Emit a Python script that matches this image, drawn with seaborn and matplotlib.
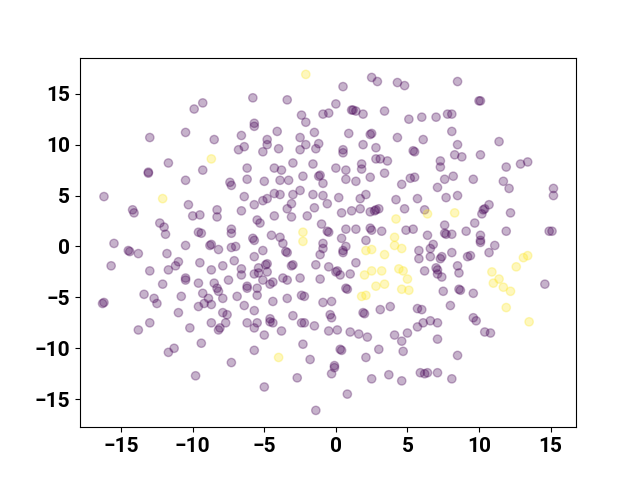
import matplotlib
matplotlib.use("Agg")
import matplotlib.pyplot as plt
import seaborn as sns
import pandas as pd

# cluster 0 (purple) points
purple = [
    (-9.3,14.1),(-9.9,13.5),(-10.5,11.2),(-13.0,10.7),(-11.7,8.2),(-13.1,7.3),(-13.1,7.2),(-9.3,7.5),(-10.5,6.5),
    (-5.8,14.6),(-3.4,14.4),(-2.4,12.9),(-0.9,13.0),(-0.5,13.1),(-2.1,12.2),(-5.7,12.1),(-5.7,11.8),(-4.1,11.3),
    (-1.5,11.2),(-6.6,10.9),(-4.8,10.5),(-2.5,10.7),(-8.5,10.5),(-4.8,10.0),(-6.4,9.8),(-6.8,9.5),(-4.0,9.6),
    (-2.1,10.0),(-1.2,10.1),(-1.4,9.6),(-2.5,9.5),(-5.1,9.3),(-3.0,8.2),(-1.6,8.1),(-6.2,7.7),(-4.3,7.7),(-3.8,7.5),
    (-1.1,7.0),(-1.2,6.9),(-2.3,6.9),(-6.2,6.6),(-5.0,6.4),(-3.9,6.5),(-3.3,6.5),(-7.4,6.3),
    (2.5,16.6),(2.9,16.2),(0.5,15.7),(4.3,16.1),(4.8,15.8),(0.0,14.0),(1.1,13.4),(1.2,13.4),(1.4,13.3),(1.9,13.0),
    (3.4,13.3),(5.1,12.5),(6.0,12.7),(7.0,12.7),(7.8,13.0),(8.1,13.0),(0.9,11.1),(2.5,11.1),(2.4,11.0),(4.3,10.7),
    (6.1,10.5),(8.1,11.3),(1.9,10.0),(2.8,9.7),(0.5,9.5),(0.5,9.2),(5.5,9.3),(5.4,9.4),(2.8,8.6),(3.1,8.6),(3.6,8.4),
    (7.3,8.4),(7.3,7.8),(0.0,7.7),(0.7,7.5),(1.8,8.1),(1.8,7.6),(2.4,6.8),(3.4,7.2),(7.6,6.6),(4.6,6.1),(5.2,6.7),
    (5.5,6.8),(0.7,6.6),(1.4,6.4),(8.2,6.9),(7.1,5.8),
    (8.5,16.2),(10.1,14.3),(10.0,14.3),(8.5,10.0),(11.4,10.3),(8.3,9.0),(8.8,8.8),(10.1,9.0),(11.9,7.8),(12.9,8.1),
    (13.4,8.3),(9.6,6.6),(11.7,6.4),
    (-16.2,4.9),(-10.3,4.1),(-14.2,3.6),(-14.1,3.3),(-10.0,3.0),(-9.5,3.1),(-12.3,2.3),(-12.0,1.9),(-11.9,1.2),
    (-9.6,1.4),(-9.4,1.3),(-15.5,0.3),(-10.5,0.1),(-14.4,-0.5),(-14.5,-0.4),(-13.8,-0.7),(-11.8,-0.7),(-9.5,-1.6),
    (-15.7,-1.9),(-11.0,-1.5),(-11.2,-1.9),(-13.0,-2.4),(-11.7,-2.3),(-10.5,-3.1),(-10.5,-3.3),(-9.6,-3.6),
    (-12.1,-3.7),(-9.3,-4.6),(-13.4,-4.7),(-12.7,-5.1),(-10.8,-4.9),(-16.2,-5.5),(-16.3,-5.6),(-12.5,-5.6),
    (-9.6,-5.9),(-9.2,-5.6),
    (-7.3,6.0),(-0.9,6.2),(-6.4,4.9),(-5.7,4.1),(-5.1,4.5),(-4.8,4.7),(-4.3,5.2),(-3.9,5.1),(-3.0,5.1),(-2.5,5.5),
    (-3.1,4.2),(-3.4,3.7),(-1.6,5.1),(-0.9,5.0),(-0.6,4.2),(-1.5,3.8),(-8.3,3.6),(-8.3,2.9),(-6.6,3.5),(-4.3,3.0),
    (-3.1,2.9),(-2.0,3.0),(-5.5,2.6),(-5.3,2.3),(-1.0,2.2),(-7.3,1.7),(-7.3,1.3),(-5.8,0.8),(-5.7,0.6),(-4.5,1.1),
    (-3.9,0.9),(-3.7,0.3),(-0.6,1.5),(-0.5,1.4),(-0.9,0.3),(-8.7,0.2),(-8.8,0.1),(-8.2,-0.3),(-7.3,-0.1),(-7.0,0.0),
    (-5.1,-0.4),(-3.5,-0.5),(-3.4,-0.6),(-0.9,-0.2),(-1.1,-0.8),(-5.7,-1.0),(-7.1,-1.4),(-4.9,-1.8),(-4.8,-1.7),
    (-3.1,-1.9),(-3.0,-1.8),(-1.4,-1.8),(-0.5,-2.0),(-8.7,-2.3),(-7.9,-1.9),(-6.6,-2.2),(-6.6,-2.8),(-5.4,-2.1),
    (-5.4,-2.6),(-5.7,-2.7),(-4.8,-2.5),(-7.5,-3.3),(-5.1,-3.3),(-4.4,-3.5),(-4.6,-3.7),(-3.7,-3.1),(-3.4,-3.3),
    (-2.5,-3.1),(-1.1,-3.2),(-8.5,-3.6),(-8.3,-4.1),(-8.2,-4.4),(-6.2,-4.1),(-6.2,-3.9),(-5.5,-4.1),(-5.5,-4.8),
    (-6.9,-4.9),(-8.9,-5.1),(-7.9,-5.1),(-3.4,-5.1),(-2.4,-4.8),(-2.2,-4.9),(-4.4,-5.4),(-8.7,-5.7),(-6.4,-5.8),
    (-0.9,-5.5),
    (0.2,4.8),(1.7,4.7),(2.1,5.1),(4.2,4.6),(5.7,4.7),(7.7,4.8),(0.4,3.3),(1.1,3.5),(1.7,3.7),(2.4,3.4),(2.7,3.5),
    (2.8,3.6),(3.0,3.7),(4.8,3.7),(6.2,3.6),(0.7,1.7),(1.4,1.7),(2.4,1.8),(2.5,1.6),(3.2,1.5),(4.9,1.6),(5.4,1.7),
    (6.4,1.1),(7.6,2.1),(7.6,1.3),(7.7,1.2),(8.1,1.2),(0.4,0.8),(2.1,0.6),(0.7,0.0),(0.5,-0.6),(0.5,-0.4),(5.8,-0.4),
    (5.8,-1.2),(6.6,-0.2),(6.8,0.2),(6.6,-1.0),(7.3,-1.2),(7.4,-1.0),(8.1,-0.6),(1.4,-1.6),(0.0,-2.5),(0.1,-2.4),
    (0.3,-2.8),(1.0,-2.7),(6.2,-2.4),(7.1,-2.3),(7.0,-2.1),(7.1,-2.7),(7.4,-3.0),(0.7,-4.1),(0.8,-4.2),(7.5,-4.4),
    (-0.3,-5.4),(3.8,-5.9),(8.0,-5.8),
    (12.1,5.7),(15.2,5.7),(15.2,5.0),(8.5,5.0),(10.7,4.1),(10.3,3.6),(10.4,3.7),(10.2,3.2),(12.2,3.3),(9.7,2.3),
    (9.1,1.5),(10.1,1.1),(10.1,0.6),(10.1,0.4),(11.1,0.1),(10.7,-0.6),(11.9,1.5),(14.9,1.5),(15.1,1.5),(9.2,-1.0),
    (9.4,-0.9),(8.5,-1.9),(8.6,-2.6),(14.6,-3.7),(8.7,-4.3),(8.6,-4.2),(9.6,-4.6),
    (-11.0,-6.5),(-13.0,-7.5),(-13.8,-8.2),(-10.2,-8.0),(-9.4,-9.5),(-11.3,-10.0),(-11.7,-10.4),(-9.8,-12.7),
    (-7.9,-6.5),(-7.6,-6.7),(-8.7,-7.5),(-7.7,-7.5),(-8.1,-8.0),(-8.2,-8.2),(-5.7,-6.3),(-6.2,-7.5),(-5.5,-7.5),
    (-5.7,-8.0),(-4.6,-7.1),(-4.6,-7.4),(-4.4,-7.5),(-5.0,-8.7),(-3.8,-8.3),(-3.0,-6.8),(-2.4,-7.5),(-2.2,-7.5),
    (-1.5,-7.8),(-5.7,-10.2),(-2.3,-9.6),(-7.3,-11.4),(-1.8,-11.1),(-2.7,-12.9),(-5.0,-13.8),(-1.4,-16.1),
    (-0.4,-6.7),(-0.3,-7.0),(2.0,-6.6),(1.9,-6.5),(3.1,-6.2),(5.7,-6.1),(6.0,-6.2),(-0.5,-8.3),(0.1,-8.2),(1.0,-8.4),
    (1.6,-8.6),(2.2,-8.9),(4.1,-8.7),(4.6,-9.3),(5.0,-8.5),(5.7,-7.9),(6.1,-7.5),(6.6,-7.3),(7.1,-7.5),(7.1,-9.1),
    (0.4,-10.2),(0.3,-10.1),(3.0,-10.1),(4.7,-10.3),(2.1,-10.9),(-0.1,-11.9),(-0.1,-11.7),(-0.3,-12.5),(2.5,-13.0),
    (3.7,-12.6),(4.6,-13.2),(5.9,-12.4),(6.2,-12.5),(6.4,-12.4),(7.1,-12.4),(8.1,-13.0),(0.8,-14.5),
    (9.6,-7.0),(9.8,-7.3),(10.4,-8.4),(10.8,-8.5),(8.5,-10.7),
]

# cluster 1 (yellow) points
yellow = [
    (-2.1,16.9),(-8.7,8.6),(-12.1,4.7),(-2.3,1.4),(-2.3,0.5),(6.4,3.2),(8.3,3.3),(4.2,2.7),(4.1,0.9),(4.1,0.1),
    (4.6,-0.2),(2.1,-0.4),(2.5,-0.3),(3.4,-0.8),(2.5,-2.4),(3.2,-2.4),(4.4,-2.2),(4.7,-2.4),(2.0,-2.8),(5.0,-3.2),
    (2.8,-3.9),(3.4,-3.7),(4.6,-4.2),(5.1,-4.3),(1.8,-4.9),(2.1,-4.8),(13.1,-1.1),(13.4,-0.9),(12.6,-2.0),
    (10.9,-2.5),(11.4,-3.2),(11.0,-3.6),(11.7,-4.0),(12.2,-4.4),(11.9,-6.0),(-4.0,-10.9),(13.5,-7.4),
]

df = pd.DataFrame(
    [(x, y, 0) for x, y in purple] + [(x, y, 1) for x, y in yellow],
    columns=["x", "y", "label"],
)

plt.rcParams["font.family"] = ["Roboto", "DejaVu Sans"]
fig, ax = plt.subplots(figsize=(6.4, 4.8), dpi=100)
sns.scatterplot(
    data=df, x="x", y="y", hue="label",
    palette={0: "#440154", 1: "#fde725"},
    alpha=0.3, s=36, linewidth=1.0, edgecolor="face",
    legend=False, ax=ax,
)
ax.set_xlabel("")
ax.set_ylabel("")
ax.set_xticks([-15, -10, -5, 0, 5, 10, 15])
ax.set_yticks([-15, -10, -5, 0, 5, 10, 15])
for lab in ax.get_xticklabels() + ax.get_yticklabels():
    lab.set_fontsize(15)
    lab.set_fontweight("bold")
fig.savefig("out.png", dpi=100)
